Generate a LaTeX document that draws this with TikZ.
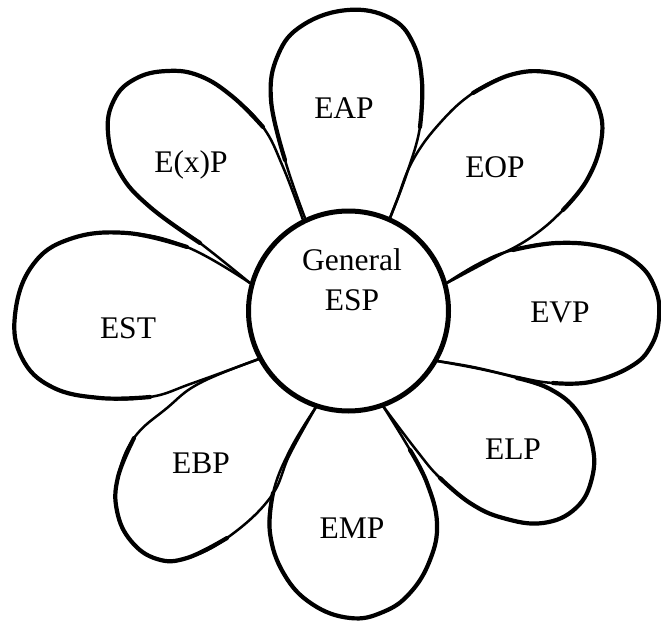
\documentclass[tikz,border=0pt]{standalone}
\usepackage{fontspec}
\setmainfont{Liberation Serif}
\begin{document}
\begin{tikzpicture}[x=1pt,y=-1pt,
    rim/.style={line width=2.5pt, line cap=round, line join=round},
    bold rim/.style={line width=4.2pt, line cap=round, line join=round},
    word/.style={font=\fontsize{31.5}{40}\selectfont, align=center, anchor=base, inner sep=0pt}]
\useasboundingbox (0,0) rectangle (661,623);

% petals: a thin outline from base to base, then a heavier stroke round the outer part
% EAP (top)
\draw[rim] plot[smooth, tension=0.7] coordinates {(305,218) (285,160) (271,100) (278,55) (303,25) (348,10) (390,18) (413,43) (422,82) (420,127) (407,173) (390,218)};
\draw[bold rim] plot[smooth, tension=0.7] coordinates {(285,160) (271,100) (278,55) (303,25) (348,10) (390,18) (413,43) (422,82) (420,127)};
% E(x)P (upper left)
\draw[rim] plot[smooth, tension=0.7] coordinates {(250,283) (200,243) (150,207) (120,173) (108,133) (114,100) (135,79) (167,71) (200,76) (233,97) (263,127) (283,167) (303,220)};
\draw[bold rim] plot[smooth, tension=0.7] coordinates {(200,243) (150,207) (120,173) (108,133) (114,100) (135,79) (167,71) (200,76) (233,97) (263,127)};
% EOP (upper right)
\draw[rim] plot[smooth, tension=0.7] coordinates {(390,218) (397,200) (413,160) (440,123) (473,93) (510,75) (547,72) (581,84) (599,109) (601,142) (587,180) (563,210) (530,238) (490,260) (445,284)};
\draw[bold rim] plot[smooth, tension=0.7] coordinates {(473,93) (510,75) (547,72) (581,84) (599,109) (601,142) (587,180) (563,210)};
% EVP (right)
\draw[rim] plot[smooth, tension=0.7] coordinates {(445,284) (480,263) (513,250) (557,243) (603,247) (637,263) (655,288) (659,317) (651,346) (630,367) (590,382) (553,383) (517,377) (473,367) (437,361)};
\draw[bold rim] plot[smooth, tension=0.7] coordinates {(513,250) (557,243) (603,247) (637,263) (655,288) (659,317) (651,346) (630,367) (590,382) (553,383)};
% ELP (lower right)
\draw[rim] plot[smooth, tension=0.7] coordinates {(437,361) (480,369) (517,378) (550,389) (577,411) (592,444) (592,478) (576,508) (543,523) (503,518) (470,503) (440,478) (417,451) (383,406)};
\draw[bold rim] plot[smooth, tension=0.7] coordinates {(517,378) (550,389) (577,411) (592,444) (592,478) (576,508) (543,523) (503,518) (470,503) (440,478)};
% EMP (bottom)
\draw[rim] plot[smooth, tension=0.7] coordinates {(383,406) (410,450) (427,483) (437,523) (430,560) (410,593) (383,612) (350,618) (312,604) (284,574) (270,533) (273,493) (290,450) (316,407)};
\draw[bold rim] plot[smooth, tension=0.7] coordinates {(410,450) (427,483) (437,523) (430,560) (410,593) (383,612) (350,618) (312,604) (284,574) (270,533) (273,493)};
% EBP (lower left)
\draw[rim] plot[smooth, tension=0.7] coordinates {(316,407) (290,454) (270,498) (227,538) (187,558) (157,559) (131,541) (117,511) (118,477) (134,438) (167,408) (200,383) (259,359)};
\draw[bold rim] plot[smooth, tension=0.7] coordinates {(227,538) (187,558) (157,559) (131,541) (117,511) (118,477) (134,438)};
% EST (left)
\draw[rim] plot[smooth, tension=0.7] coordinates {(250,283) (187,247) (127,233) (70,239) (32,266) (15,315) (22,358) (52,387) (100,398) (150,397) (193,383) (259,359)};
\draw[bold rim] plot[smooth, tension=0.7] coordinates {(187,247) (127,233) (70,239) (32,266) (15,315) (22,358) (52,387) (100,398) (150,397)};

% centre disc
\node (hub) [circle, draw, fill=white, line width=5pt, minimum size=200pt, inner sep=0pt] at (348.5,311) {};

% labels
\node (core) [word] at (352,310) {General\\ESP};
\node (eap) [word] at (344,119) {EAP};
\node (exp) [word] at (191,172) {E(x)P};
\node (eop) [word] at (495,177) {EOP};
\node (evp) [word] at (560,322) {EVP};
\node (est) [word] at (128,338) {EST};
\node (ebp) [word] at (201,473) {EBP};
\node (elp) [word] at (513,459) {ELP};
\node (emp) [word] at (352,538) {EMP};
\end{tikzpicture}
\end{document}
